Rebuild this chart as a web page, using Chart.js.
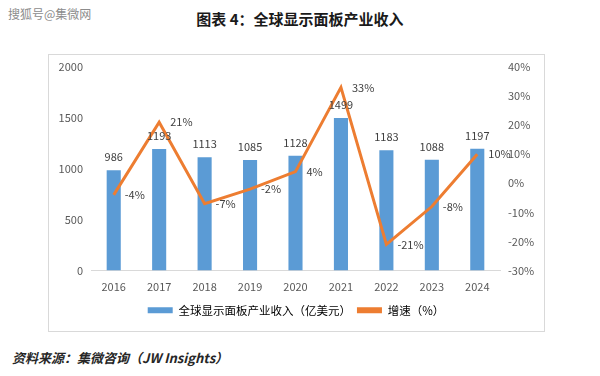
<!DOCTYPE html>
<html>
<head>
<meta charset="utf-8">
<script src="https://cdn.jsdelivr.net/npm/chart.js@4.4.1/dist/chart.umd.min.js"></script>
<style>
  html, body { margin: 0; padding: 0; background: #fff; }
  #wrap { position: relative; width: 600px; height: 376px; overflow: hidden; font-family: "Noto Sans CJK SC", "Noto Sans", sans-serif; }
  #frame { position: absolute; left: 48px; top: 54px; width: 495px; height: 276px; border: 1px solid #d9d9d9; }
  #mark { position: absolute; left: 8px; top: 5px; font-size: 12px; color: #8c8c8c; }
  #title { position: absolute; left: 0; width: 600px; top: 8px; text-align: center; font-size: 15px; font-weight: bold; color: #1a1a1a; }
  #source { position: absolute; left: 12px; top: 348px; font-size: 13px; font-weight: bold; font-style: italic; color: #262626; }
  canvas { position: absolute; left: 0; top: 0; }
</style>
</head>
<body>
<div id="wrap">
  <div id="frame"></div>
  <div id="mark">搜狐号@集微网</div>
  <div id="title">图表 4：全球显示面板产业收入</div>
  <div id="source">资料来源：集微咨询（JW Insights）</div>
  <canvas id="chart" width="600" height="376"></canvas>
</div>
<script>
const years = ['2016', '2017', '2018', '2019', '2020', '2021', '2022', '2023', '2024'];
const revenue = [986, 1193, 1113, 1085, 1128, 1499, 1183, 1088, 1197];
const growth = [-4, 21, -7, -2, 4, 33, -21, -8, 10];
const seriesNames = ['全球显示面板产业收入（亿美元）', '增速（%）'];

const BLUE = '#5b9bd5';
const ORANGE = '#ed7d31';
const FONT = '"Noto Sans CJK SC", "Noto Sans", sans-serif';

Chart.defaults.font.family = FONT;
Chart.defaults.color = '#595959';

// numbers above the bars, percentages to the right of the line points
const valueLabels = {
  id: 'valueLabels',
  afterDatasetsDraw(chart) {
    const ctx = chart.ctx;
    ctx.save();
    ctx.font = '11px ' + FONT;
    ctx.fillStyle = '#404040';
    chart.getDatasetMeta(0).data.forEach((bar, i) => {
      ctx.textAlign = 'center';
      ctx.textBaseline = 'middle';
      ctx.fillText(revenue[i], bar.x, bar.y - 13);
    });
    chart.getDatasetMeta(1).data.forEach((pt, i) => {
      ctx.textAlign = 'left';
      ctx.textBaseline = 'middle';
      ctx.fillText(growth[i] + '%', pt.x + 11, pt.y);
    });
    ctx.restore();
  }
};

new Chart(document.getElementById('chart'), {
  type: 'bar',
  data: {
    labels: years,
    datasets: [{
      label: seriesNames[0],
      data: revenue,
      backgroundColor: BLUE,
      barPercentage: 0.31,
      categoryPercentage: 1,
      yAxisID: 'y',
      order: 1
    }, {
      type: 'line',
      label: seriesNames[1],
      data: growth,
      borderColor: ORANGE,
      backgroundColor: ORANGE,
      borderWidth: 3,
      pointRadius: 0,
      tension: 0,
      yAxisID: 'y1',
      order: 0
    }]
  },
  options: {
    responsive: false,
    animation: false,
    layout: { padding: { left: 48, right: 56, top: 67, bottom: 50 } },
    scales: {
      x: {
        grid: { display: false },
        border: { display: true, color: '#d9d9d9' },
        ticks: { padding: 2, font: { size: 11 } },
        afterFit(scale) { scale.height = 28; }
      },
      y: {
        position: 'left',
        min: 0, max: 2000,
        ticks: { stepSize: 500, padding: 0, font: { size: 11 }, callback: v => String(v) },
        grid: { display: false },
        border: { display: false },
        afterFit(scale) { scale.width = 43; }
      },
      y1: {
        position: 'right',
        min: -30, max: 40,
        ticks: { stepSize: 10, padding: 0, font: { size: 11 }, callback: v => v + '%' },
        grid: { display: false },
        border: { display: false },
        afterFit(scale) { scale.width = 44; }
      }
    },
    plugins: {
      tooltip: { enabled: false },
      legend: {
        position: 'bottom',
        labels: {
          boxWidth: 25,
          boxHeight: 6,
          padding: 6,
          color: '#595959',
          font: { size: 11.5 },
          generateLabels(chart) {
            return chart.data.datasets.map((ds, i) => ({
              text: ds.label,
              fillStyle: ds.backgroundColor,
              strokeStyle: ds.backgroundColor,
              lineWidth: 0,
              datasetIndex: i
            }));
          }
        }
      }
    }
  },
  plugins: [valueLabels]
});
</script>
</body>
</html>
